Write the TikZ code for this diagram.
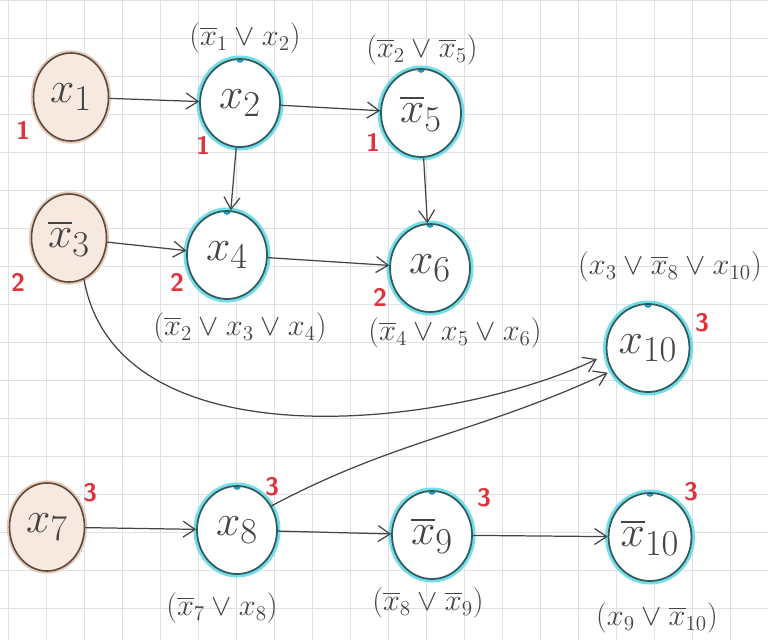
\documentclass[tikz,border=0pt]{standalone}
\usepackage{amsmath,amssymb}
\usepackage{xcolor}
\usepackage{tikz}
\usetikzlibrary{arrows.meta,shapes.geometric}
\definecolor{cGrid}{HTML}{DFE0E9}
\definecolor{cInk}{HTML}{444444}
\definecolor{cBrown}{HTML}{5B4A40}
\definecolor{cPeach}{HTML}{F7E9E0}
\definecolor{cHaloB}{HTML}{E8C9B6}
\definecolor{cTeal}{HTML}{2F5C5C}
\definecolor{cCyan}{HTML}{74DDE9}
\definecolor{cDot}{HTML}{1E9BC0}
\definecolor{cRed}{HTML}{E2313B}
\tikzset{
  gridline/.style={draw=cGrid, line width=0.5pt},
  bnode/.style={draw=cBrown, ellipse, line width=0.9pt, fill=cPeach, text=cInk,
                minimum width=15mm, minimum height=17.6mm, inner sep=0pt, font=\Huge,
                preaction={draw=cHaloB, line width=3pt}},
  cnode/.style={draw=cTeal, ellipse, line width=1pt, fill=white, text=cInk,
                minimum width=16mm, minimum height=17.6mm, inner sep=0pt, font=\Huge,
                preaction={draw=cCyan, line width=4pt},
                path picture={\fill[cDot] (path picture bounding box.north) circle (2.2pt);}},
  clause/.style={text=cInk, font=\LARGE, inner sep=1pt},
  level/.style={text=cRed, font=\Large\sffamily\bfseries, inner sep=0pt},
  link/.style={-{Straight Barb[length=2.4mm,width=3.2mm]}, draw=cInk, line width=0.7pt},
}

\begin{document}
\begin{tikzpicture}[x=0.2mm, y=-0.2mm]
        \useasboundingbox (0,0) rectangle (768,640);
        \fill[white] (0,0) rectangle (768,640);
        % squared paper
        \foreach \gx in {8,46,...,768} \draw[gridline] (\gx,0) -- (\gx,640);
        \foreach \gy in {0,38,...,640} \draw[gridline] (0,\gy) -- (768,\gy);
        % variables
        \node[bnode] (x1) at (71,97) {$x_1$};
        \node[cnode] (x2) at (240,103) {$x_2$};
        \node[cnode] (x5) at (421,113) {$\overline{x}_5$};
        \node[bnode] (x3) at (69,238) {$\overline{x}_3$};
        \node[cnode] (x4) at (227,255) {$x_4$};
        \node[cnode] (x6) at (430,268) {$x_6$};
        \node[cnode] (x10) at (648,348) {$x_{10}$};
        \node[bnode] (x7) at (47,527) {$x_7$};
        \node[cnode] (x8) at (237,530) {$x_8$};
        \node[cnode] (x9) at (432,535) {$\overline{x}_9$};
        \node[cnode] (nx10) at (650,537) {$\overline{x}_{10}$};
        % clauses
        \node[clause] (c2) at (245,38) {$(\overline{x}_1 \vee x_2)$};
        \node[clause] (c5) at (422,50) {$(\overline{x}_2 \vee \overline{x}_5)$};
        \node[clause] (c4) at (240,328) {$(\overline{x}_2 \vee x_3 \vee x_4)$};
        \node[clause] (c6) at (455,333) {$(\overline{x}_4 \vee x_5 \vee x_6)$};
        \node[clause] (c10) at (670,267) {$(x_3 \vee \overline{x}_8 \vee x_{10})$};
        \node[clause] (c8) at (222,608) {$(\overline{x}_7 \vee x_8)$};
        \node[clause] (c9) at (428,603) {$(\overline{x}_8 \vee \overline{x}_9)$};
        \node[clause] (c11) at (657,618) {$(x_9 \vee \overline{x}_{10})$};
        % levels
        \node[level] (l1) at (23,130) {1};
        \node[level] (l2) at (203,145) {1};
        \node[level] (l5) at (373,142) {1};
        \node[level] (l3) at (18,282) {2};
        \node[level] (l4) at (177,282) {2};
        \node[level] (l6) at (380,297) {2};
        \node[level] (l10) at (702,323) {3};
        \node[level] (l7) at (90,493) {3};
        \node[level] (l8) at (272,487) {3};
        \node[level] (l9) at (484,498) {3};
        \node[level] (l11) at (691,492) {3};
        % implications
        \draw[link] (x1) -- (x2);
        \draw[link] (x2) -- (x5);
        \draw[link] (x2) -- (x4);
        \draw[link] (x5) -- (x6);
        \draw[link] (x3) -- (x4);
        \draw[link] (x4) -- (x6);
        \draw[link] (x3.-70) .. controls +(33,187) and +(-147,70) .. ([xshift=-2mm]x10.195);
        \draw[link] (x8.35) to[out=28, in=205] ([xshift=-1mm]x10.215);
        \draw[link] (x7) -- (x8);
        \draw[link] (x8) -- (x9);
        \draw[link] (x9) -- (nx10);
      \end{tikzpicture}
\end{document}
